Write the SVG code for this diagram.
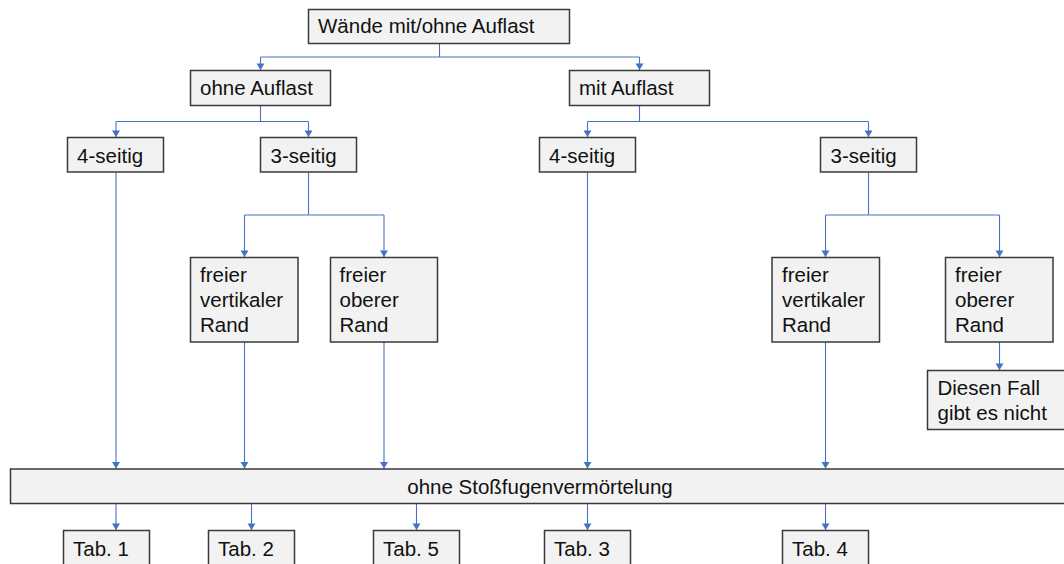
<svg xmlns="http://www.w3.org/2000/svg" width="1064" height="564" viewBox="0 0 1064 564">
<style>
.box{fill:#f2f2f2;stroke:#3a3a3a;stroke-width:1.5}
.t{font-family:"Liberation Sans",Arial,sans-serif;font-size:20.5px;fill:#111}
.c{fill:none;stroke:#4472c4;stroke-width:1.1}
</style>
<defs>
<marker id="arrD" markerUnits="userSpaceOnUse" markerWidth="9" markerHeight="8" refX="4.5" refY="7" orient="0" viewBox="0 0 9 8">
<path d="M0.5,0.5 L8.5,0.5 L4.5,7 Z" fill="#4472c4"/>
</marker>
</defs>
<g id="connectors">
<path class="c" d="M439.5 43.5 V57 M260.5 57 H639.5 M260.5 105.5 V121.5 M116 121.5 H308.5 M639.5 105.5 V121.5 M587.5 121.5 H868.5 M308.5 172 V215 M244.5 215 H384 M868.5 172 V215 M825.5 215 H999.5"/>
<g style="marker-end:url(#arrD)" class="c">
<path d="M260.5 57 V70"/>
<path d="M639.5 57 V70"/>
<path d="M116 121.5 V137"/>
<path d="M308.5 121.5 V137"/>
<path d="M587.5 121.5 V137"/>
<path d="M868.5 121.5 V137"/>
<path d="M244.5 215 V257"/>
<path d="M384 215 V257"/>
<path d="M825.5 215 V257"/>
<path d="M999.5 215 V257"/>
<path d="M999.5 342 V370"/>
<path d="M116 172 V468.5"/>
<path d="M244.5 342 V468.5"/>
<path d="M384 342 V468.5"/>
<path d="M587.5 172 V468.5"/>
<path d="M825.5 342 V468.5"/>
<path d="M116 503.5 V530"/>
<path d="M251.5 503.5 V530"/>
<path d="M416.5 503.5 V530"/>
<path d="M587.5 503.5 V530"/>
<path d="M825.5 503.5 V530"/>
</g>
</g>
<g id="n-top"><rect class="box" x="308.5" y="9.5" width="261" height="34"/><text class="t" x="318" y="33">Wände mit/ohne Auflast</text></g>
<g id="n-ohne"><rect class="box" x="190.5" y="70.5" width="140" height="35"/><text class="t" x="200" y="95">ohne Auflast</text></g>
<g id="n-mit"><rect class="box" x="569.5" y="70.5" width="140" height="35"/><text class="t" x="579" y="95">mit Auflast</text></g>
<g id="n-4L"><rect class="box" x="67.5" y="137.5" width="96" height="34.5"/><text class="t" x="77" y="163">4-seitig</text></g>
<g id="n-3L"><rect class="box" x="260.5" y="137.5" width="96" height="34.5"/><text class="t" x="270.5" y="163">3-seitig</text></g>
<g id="n-4R"><rect class="box" x="539.5" y="137.5" width="96" height="34.5"/><text class="t" x="549" y="163">4-seitig</text></g>
<g id="n-3R"><rect class="box" x="820.5" y="137.5" width="96" height="34.5"/><text class="t" x="830.5" y="163">3-seitig</text></g>
<g id="n-vertL"><rect class="box" x="190.5" y="257.5" width="107.5" height="84.5"/><text class="t" x="200" y="282">freier</text><text class="t" x="200" y="307">vertikaler</text><text class="t" x="200" y="332">Rand</text></g>
<g id="n-obL"><rect class="box" x="330.5" y="257.5" width="107" height="84.5"/><text class="t" x="339.5" y="282">freier</text><text class="t" x="339.5" y="307">oberer</text><text class="t" x="339.5" y="332">Rand</text></g>
<g id="n-vertR"><rect class="box" x="772" y="257.5" width="107.5" height="84.5"/><text class="t" x="782" y="282">freier</text><text class="t" x="782" y="307">vertikaler</text><text class="t" x="782" y="332">Rand</text></g>
<g id="n-obR"><rect class="box" x="945.5" y="257.5" width="107.5" height="84.5"/><text class="t" x="955" y="282">freier</text><text class="t" x="955" y="307">oberer</text><text class="t" x="955" y="332">Rand</text></g>
<g id="n-diesen"><rect class="box" x="927.5" y="370.5" width="140" height="59"/><text class="t" x="937.5" y="395">Diesen Fall</text><text class="t" x="937.5" y="419.5">gibt es nicht</text></g>
<g id="n-bar"><rect class="box" x="10.5" y="469" width="1060" height="34.5"/><text class="t" x="540" y="493.5" text-anchor="middle">ohne Stoßfugenvermörtelung</text></g>
<g id="n-tab1"><rect class="box" x="63.5" y="530.5" width="86" height="40"/><text class="t" x="73" y="556">Tab. 1</text></g>
<g id="n-tab2"><rect class="box" x="208.5" y="530.5" width="86" height="40"/><text class="t" x="218" y="556">Tab. 2</text></g>
<g id="n-tab5"><rect class="box" x="373.5" y="530.5" width="86" height="40"/><text class="t" x="383" y="556">Tab. 5</text></g>
<g id="n-tab3"><rect class="box" x="544.5" y="530.5" width="86" height="40"/><text class="t" x="554" y="556">Tab. 3</text></g>
<g id="n-tab4"><rect class="box" x="782.5" y="530.5" width="86" height="40"/><text class="t" x="792" y="556">Tab. 4</text></g>
</svg>
